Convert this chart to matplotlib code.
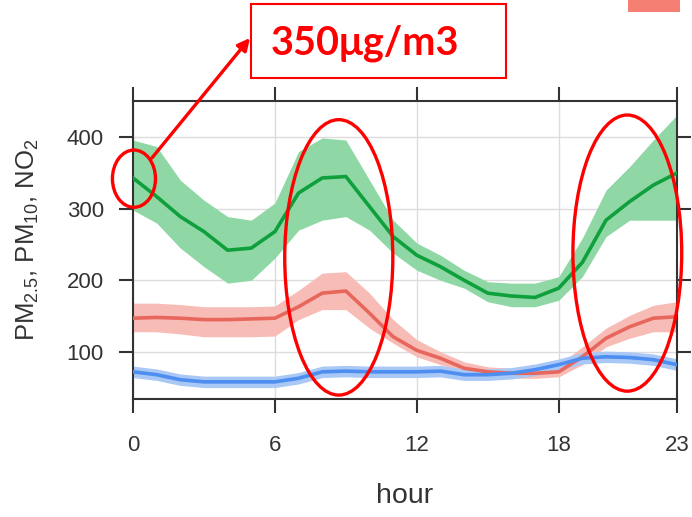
import matplotlib
matplotlib.use("Agg")
import matplotlib.pyplot as plt
from matplotlib.patches import Ellipse, Rectangle
import numpy as np

plt.rcParams['font.family'] = ['Liberation Sans', 'DejaVu Sans']
plt.rcParams['mathtext.default'] = 'regular'

hours = list(range(24))

# PM10 diurnal mean and confidence band
pm10_mean = [343, 317, 289, 268, 242, 245, 268, 322, 343, 345, 303, 261,
             235, 219, 200, 182, 178, 176, 189, 225, 284, 310, 333, 350]
pm10_low = [298, 280, 245, 219, 196, 200, 231, 270, 284, 289, 270, 238,
            214, 200, 189, 170, 163, 163, 172, 205, 261, 284, 284, 284]
pm10_high = [396, 387, 340, 312, 289, 284, 308, 380, 399, 396, 340, 284,
             252, 235, 214, 198, 196, 196, 205, 259, 326, 359, 396, 431]

# PM2.5
pm25_mean = [147, 148, 147, 145, 145, 146, 147, 163, 182, 185, 154, 121,
             102, 91, 77, 72, 70, 70, 72, 93, 119, 135, 147, 149]
pm25_low = [128, 128, 125, 121, 121, 121, 122, 145, 159, 159, 133, 112,
            93, 82, 72, 67, 63, 63, 65, 82, 107, 119, 128, 128]
pm25_high = [168, 168, 166, 163, 163, 163, 164, 186, 210, 212, 182, 145,
             117, 100, 86, 79, 77, 78, 82, 107, 133, 151, 165, 170]

# NO2
no2_mean = [72, 68, 61, 58, 58, 58, 58, 63, 72, 73, 72, 72,
            72, 73, 68, 68, 70, 75, 82, 91, 93, 92, 89, 82]
no2_band = 8

x_ticks = [0, 6, 12, 18, 23]
y_ticks = [100, 200, 300, 400]

fig = plt.figure(figsize=(6.92, 5.17), dpi=100)
ax = fig.add_axes([0.1922, 0.2282, 0.7861, 0.577])

ax.grid(True, color='#dcdcdc', lw=1.0)
ax.set_axisbelow(True)

series = [
    (pm10_low, pm10_high, pm10_mean, '#8fd8a6', '#0fa03c'),
    (pm25_low, pm25_high, pm25_mean, '#f7bcb6', '#e8675d'),
    ([v - no2_band for v in no2_mean], [v + no2_band for v in no2_mean],
     no2_mean, '#a9c8f6', '#4d8ef0'),
]
for lo, hi, mean, band_col, line_col in series:
    ax.fill_between(hours, lo, hi, color=band_col, lw=0, zorder=2)
    ax.plot(hours, mean, color=line_col, lw=2.6, zorder=3)

ax.set_xlim(0, 23)
ax.set_ylim(34, 451)
ax.set_xticks(x_ticks)
ax.set_yticks(y_ticks)
ax.tick_params(axis='both', which='both', direction='out', length=10, width=1.5,
               colors='#333333', labelsize=16, labelcolor='#333333',
               top=True, right=True, labeltop=False, labelright=False)
ax.tick_params(axis='x', pad=16)
ax.tick_params(axis='y', pad=11)
for s in ax.spines.values():
    s.set_color('#333333')
    s.set_linewidth(1.5)

ax.set_xlabel('hour', fontsize=20.5, color='#333333', va='center')
ax.xaxis.set_label_coords(0.5, -0.325)
ax.set_ylabel(r'PM$_{2.5}$, PM$_{10}$, NO$_2$', fontsize=18.5, color='#333333',
              va='center')
ax.yaxis.set_label_coords(-0.193, 0.533)

# Highlight ellipses
for cx, cy, w, h in [(0.04, 342, 1.82, 80), (8.7, 232, 4.57, 385), (20.9, 238, 4.6, 386)]:
    ax.add_patch(Ellipse((cx, cy), w, h, fill=False, ec='#ff0000', lw=2.4,
                         zorder=5, clip_on=False))

# Callout arrow and box
ax.annotate('', xy=(250, 479), xycoords='figure pixels',
            xytext=(0.8, 371), textcoords='data',
            arrowprops=dict(arrowstyle='-|>', color='#ff0000', lw=2.4,
                            mutation_scale=18, shrinkA=0, shrinkB=0),
            annotation_clip=False, zorder=6)
fig.add_artist(Rectangle((251, 439), 255, 74, transform=None,
                         fc='white', ec='#ff0000', lw=1.5))
fig.text(365, 462, '350μg/m3', transform=None, ha='center', va='baseline',
         fontsize=28.5, fontweight='bold', color='#ff0000',
         family=['Lato', 'DejaVu Sans'])
fig.add_artist(Rectangle((628, 505), 52, 12, transform=None,
                         fc='#f47f72', ec='none'))

fig.savefig('out.png', dpi=100)
